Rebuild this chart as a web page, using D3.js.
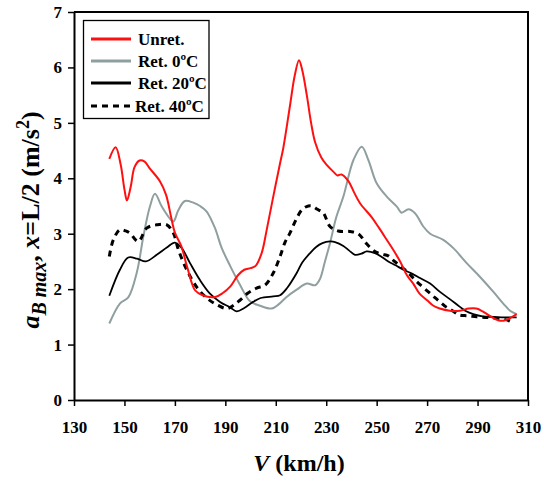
<!DOCTYPE html>
<html>
<head>
<meta charset="utf-8">
<script src="https://cdn.jsdelivr.net/npm/d3@7"></script>
<style>
  body { margin: 0; background: #fff; }
</style>
</head>
<body>
<svg id="chart" width="544" height="481"></svg>
<script>
// speed axis ticks and y ticks
var xTicks = [130, 150, 170, 190, 210, 230, 250, 270, 290, 310];
var yTicks = [0, 1, 2, 3, 4, 5, 6, 7];

// Unret.
var unretV = [144,146.5,148.5,150,151,152.5,154,156,158,160,164,166.5,168.5,170,172.5,175,178,181,186,189,192,195,197.5,200,202,204.4,206.4,209,211.7,213,215.6,217.5,219.2,220.5,222.3,224,225.6,228,230,232.8,234.5,236,238.8,241,243.4,248,251,254,256,259.3,262,264.5,267,270,272.5,275,279,283,286.5,289.5,292,294,297,299,301,303,305.5];
var unretA = [4.35,4.56,4.25,3.8,3.6,3.85,4.2,4.32,4.3,4.18,3.95,3.7,3.3,3.02,2.78,2.38,1.98,1.89,1.86,1.93,2.05,2.25,2.35,2.38,2.42,2.65,3.07,3.67,4.27,4.55,5.3,5.85,6.13,5.95,5.5,5.0,4.65,4.38,4.25,4.12,4.05,4.07,3.95,3.75,3.55,3.3,3.1,2.89,2.75,2.5,2.25,2.1,1.92,1.8,1.7,1.65,1.61,1.61,1.65,1.65,1.6,1.54,1.46,1.43,1.44,1.48,1.55];

// Ret. 0ºC
var ret0V = [144,148.2,151.5,154.9,157.5,160.1,162.1,164.8,167.4,169.4,171.4,174,177.3,180,182.6,185.9,188.5,191.9,195.8,199.8,203.8,208.4,211,214.3,218.3,222.3,225.6,227.5,229.5,231.5,234,236.8,240.8,244.1,246.7,250,254,258,259.9,262.6,265.2,268.5,271.2,276.4,280.4,285.7,291,296.3,300.2,302.9,305.5];
var ret0A = [1.38,1.74,1.85,2.3,2.95,3.49,3.72,3.49,3.31,3.22,3.43,3.59,3.56,3.5,3.4,3.1,2.75,2.42,2.08,1.78,1.7,1.65,1.72,1.86,1.99,2.1,2.07,2.18,2.5,2.83,3.3,3.67,4.33,4.57,4.33,3.91,3.67,3.49,3.38,3.44,3.37,3.13,3.0,2.89,2.74,2.47,2.22,1.95,1.74,1.61,1.55];

// Ret. 20ºC
var ret20V = [144,148.2,151.5,155,158.5,162.8,166.8,170,172.7,176,180,183.9,187.9,191.9,194.5,197.5,201,204,209,211.7,214.5,218.3,220.5,223.6,226,228.5,231.5,233.5,236.8,239,241.4,244,246,249.3,252,254.6,257.5,260.6,264,267.2,271.2,275.1,279,283,285.5,288.3,292,296.3,301,305.5];
var ret20A = [1.88,2.35,2.57,2.55,2.5,2.62,2.75,2.84,2.74,2.47,2.16,1.92,1.77,1.67,1.6,1.66,1.77,1.84,1.87,1.89,2.02,2.29,2.48,2.65,2.76,2.83,2.86,2.85,2.78,2.7,2.62,2.64,2.68,2.65,2.58,2.5,2.43,2.35,2.28,2.2,2.1,1.95,1.82,1.68,1.6,1.55,1.51,1.5,1.49,1.49];

// Ret. 40ºC
var ret40V = [144,145.6,148.2,150.5,152.2,155.5,158.8,162.8,166.8,169.4,171.4,174.7,178.6,182.6,186.6,190.5,193,195.8,199,202.4,205.7,209,211.7,213.7,215.6,218,220.3,222.2,224.2,226.5,228.9,231.5,234.8,239.4,242.7,246,249.3,252,254.6,256.6,259.3,262,264.5,267.2,270.5,273,275.1,277.5,279.1,281.7,283,286,289.7,293,296.3,300,302.5,304.2];
var ret40A = [2.59,2.89,3.07,3.05,3.01,2.86,3.1,3.16,3.16,3.01,2.71,2.35,2.04,1.84,1.72,1.65,1.7,1.8,1.93,2.02,2.07,2.29,2.59,2.85,3.01,3.25,3.43,3.49,3.5,3.44,3.37,3.13,3.05,3.04,3.0,2.82,2.68,2.63,2.6,2.52,2.42,2.32,2.2,2.08,1.95,1.85,1.77,1.68,1.64,1.56,1.53,1.52,1.5,1.49,1.48,1.46,1.43,1.39];

var seriesNames = ["Unret.", "Ret. 0ºC", "Ret. 20ºC", "Ret. 40ºC"];

var FONT = "Liberation Serif";

var svg = d3.select("#chart");

var x = d3.scaleLinear().domain([130, 310]).range([74, 528]);
var y = d3.scaleLinear().domain([0, 7]).range([400, 12]);

var series = [
  { name: seriesNames[0], v: unretV, a: unretA, color: "#ff1010", width: 2, dash: null },
  { name: seriesNames[1], v: ret0V, a: ret0A, color: "#8f9f9f", width: 2, dash: null },
  { name: seriesNames[2], v: ret20V, a: ret20A, color: "#000", width: 1.8, dash: null },
  { name: seriesNames[3], v: ret40V, a: ret40A, color: "#000", width: 3, dash: "6,5" }
];

var line = d3.line()
    .x(function (d) { return x(d[0]); })
    .y(function (d) { return y(d[1]); })
    .curve(d3.curveCatmullRom.alpha(0.5));

// curves (gray first so red sits on top like the original)
var drawOrder = [1, 2, 3, 0];
drawOrder.forEach(function (i) {
  var s = series[i];
  svg.append("path")
    .datum(d3.zip(s.v, s.a))
    .attr("fill", "none")
    .attr("stroke", s.color)
    .attr("stroke-width", s.width)
    .attr("stroke-dasharray", s.dash)
    .attr("d", line);
});

// frame top + right
svg.append("path")
    .attr("d", "M74,12H528V400")
    .attr("fill", "none")
    .attr("stroke", "#000")
    .attr("stroke-width", 2);

var xAxis = svg.append("g")
    .attr("transform", "translate(0,400)")
    .call(d3.axisBottom(x).tickValues(xTicks).tickFormat(d3.format("d"))
      .tickSize(6).tickPadding(15).tickSizeOuter(0));

var yAxis = svg.append("g")
    .attr("transform", "translate(74,0)")
    .call(d3.axisLeft(y).tickValues(yTicks).tickFormat(d3.format("d"))
      .tickSize(6).tickPadding(6).tickSizeOuter(0));

[xAxis, yAxis].forEach(function (g) {
  g.attr("font-family", FONT).attr("font-size", 17).attr("font-weight", "bold");
  g.select(".domain").attr("stroke-width", 2).attr("stroke", "#000");
  g.selectAll(".tick line").attr("stroke-width", 1.5).attr("stroke", "#000");
  g.selectAll(".tick text")
    .attr("font-family", FONT)
    .attr("font-weight", "bold")
    .attr("font-size", 17)
    .attr("fill", "#000");
});

// x title
var xt = svg.append("text")
    .attr("x", 299)
    .attr("y", 471)
    .attr("text-anchor", "middle")
    .attr("font-family", FONT)
    .attr("font-weight", "bold")
    .attr("font-size", 24);
xt.append("tspan").attr("font-style", "italic").text("V");
xt.append("tspan").text(" (km/h)");

// y title
var yt = svg.append("text")
    .attr("transform", "translate(39,220) rotate(-90)")
    .attr("text-anchor", "middle")
    .attr("font-family", FONT)
    .attr("font-weight", "bold")
    .attr("font-size", 26);
yt.append("tspan").attr("font-style", "italic").text("a");
yt.append("tspan").attr("font-style", "italic").attr("font-size", 20).attr("dy", 7).text("B max");
yt.append("tspan").attr("dy", -7).text(", ");
yt.append("tspan").attr("font-style", "italic").text("x");
yt.append("tspan").text("=L/2 (m/s");
yt.append("tspan").attr("font-size", 18).attr("dy", -10).text("2");
yt.append("tspan").attr("dy", 10).text(")");

// legend
var legend = svg.append("g");
legend.append("rect")
    .attr("x", 83.5).attr("y", 20.5)
    .attr("width", 125.5).attr("height", 98)
    .attr("fill", "#fff")
    .attr("stroke", "#000")
    .attr("stroke-width", 1.3);

var rowY = [39, 61, 83, 106];
series.forEach(function (s, i) {
  legend.append("line")
    .attr("x1", 91).attr("x2", 131)
    .attr("y1", rowY[i]).attr("y2", rowY[i])
    .attr("stroke", s.color)
    .attr("stroke-width", 3)
    .attr("stroke-dasharray", s.dash);
  legend.append("text")
    .attr("x", i == 3 ? 135 : 138)
    .attr("y", rowY[i] + 6)
    .attr("font-family", FONT)
    .attr("font-weight", "bold")
    .attr("font-size", 17)
    .text(s.name);
});
</script>
</body>
</html>
